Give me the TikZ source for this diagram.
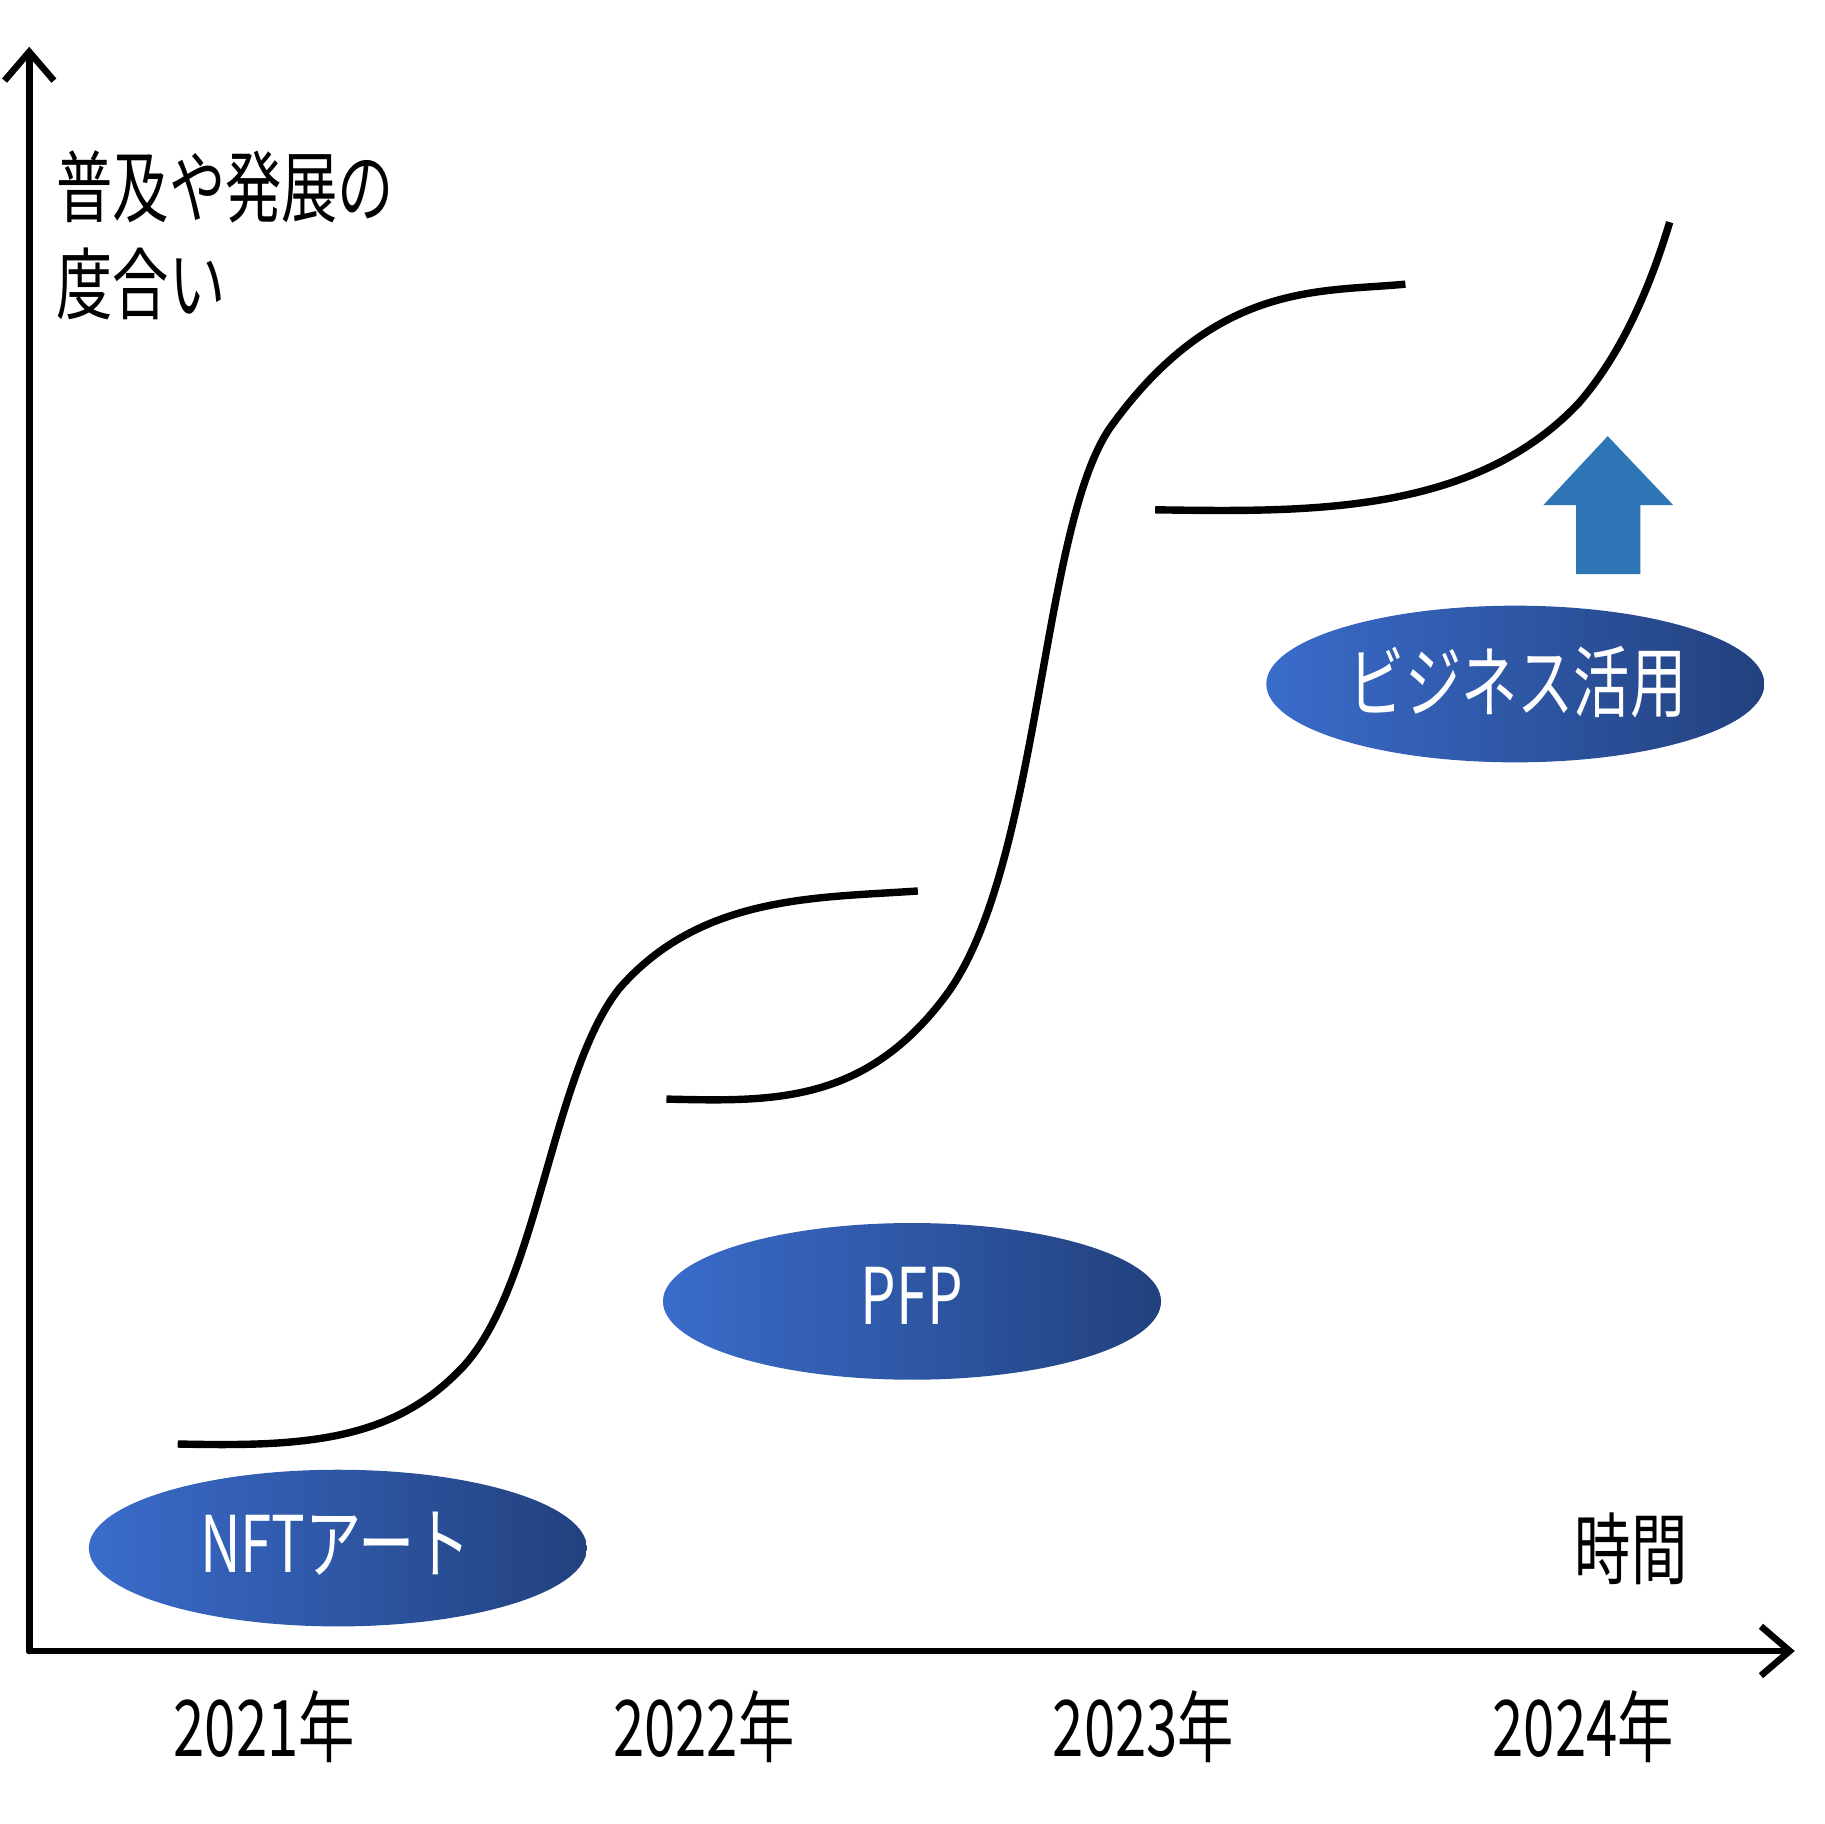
\documentclass[tikz,border=0pt]{standalone}
\usepackage{fontspec}
\setmainfont{Noto Sans CJK JP}
\usetikzlibrary{arrows.meta}
\begin{document}
\begin{tikzpicture}[x=0.01cm,y=-0.01cm,
  curve/.style={line width=1.8pt},
  axis/.style={line width=1.6pt,line cap=round,-{Straight Barb[length=7pt,width=12pt,line width=1.6pt]}},
  lbl/.style={font=\fontsize{19}{22}\selectfont,xscale=0.72,inner sep=0},
  wlbl/.style={lbl,text=white}]
\definecolor{blue1}{HTML}{3A6CCB}
\definecolor{blue2}{HTML}{22417E}
\definecolor{arrowblue}{HTML}{2E75B6}
\useasboundingbox (0,0) rectangle (1560,1560);
\coordinate (o) at (25,1412);
\coordinate (ytop) at (25,40);
\coordinate (xend) at (1535,1412);
\draw[axis] (o) -- (ytop);
\draw[axis] (o) -- (xend);
% curves
\draw[curve] (152,1235) .. controls (250,1237) and (330,1235) .. (390,1175)
  .. controls (460,1110) and (470,920) .. (530,845)
  .. controls (600,765) and (700,768) .. (785,762);
\draw[curve] (570,940) .. controls (660,942) and (740,945) .. (810,850)
  .. controls (890,740) and (890,450) .. (950,365)
  .. controls (1040,240) and (1130,250) .. (1202,243);
\draw[curve] (988,436) .. controls (1120,438) and (1260,440) .. (1350,345)
  .. controls (1385,305) and (1410,250) .. (1428,190);
% bubbles
\shade[left color=blue1,right color=blue2] (289,1324) ellipse [x radius=213,y radius=67];
\shade[left color=blue1,right color=blue2] (780,1113) ellipse [x radius=213,y radius=67];
\shade[left color=blue1,right color=blue2] (1296,585) ellipse [x radius=213,y radius=67];
\node[wlbl] (nft) at (287,1320) {NFTアート};
\node[wlbl] (pfp) at (780,1108) {PFP};
\node[wlbl] (biz) at (1298,583) {ビジネス活用};
% block arrow
\fill[arrowblue] (1375,373) -- (1431,432) -- (1403,432) -- (1403,491) -- (1348,491) -- (1348,432) -- (1320,432) -- cycle;
% texts
\node[lbl,anchor=west] (ylab1) at (48,160) {普及や発展の};
\node[lbl,anchor=west] (ylab2) at (48,243) {度合い};
\node[lbl] (y1) at (226,1477) {2021年};
\node[lbl] (y2) at (602,1477) {2022年};
\node[lbl] (y3) at (978,1477) {2023年};
\node[lbl] (y4) at (1354,1477) {2024年};
\node[lbl] (t) at (1395,1325) {時間};
\end{tikzpicture}
\end{document}
